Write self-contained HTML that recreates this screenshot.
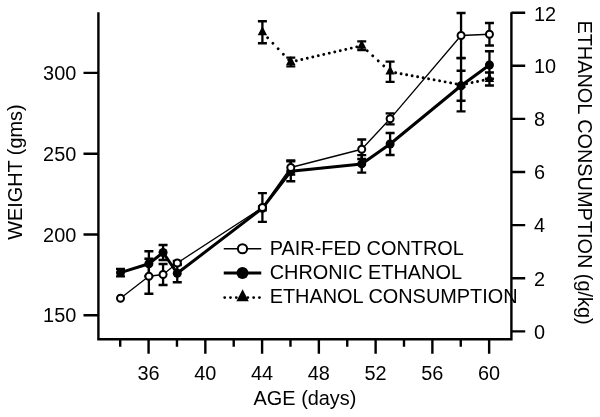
<!DOCTYPE html>
<html><head><meta charset="utf-8"><title>Weight and ethanol consumption</title>
<style>html,body{margin:0;padding:0;background:#fff}svg{display:block}text{font-family:"Liberation Sans",Arial,sans-serif;font-size:19.9px;fill:#000}</style>
</head><body>
<svg width="600" height="417" viewBox="0 0 600 417">
<rect width="600" height="417" fill="#fff"/>
<path d="M98.4 12.3V339.2H511.4V12.3" fill="none" stroke="#000" stroke-width="2.4" stroke-linejoin="miter"/>
<path d="M120.20 339V346.75M148.58 339V353.75M176.96 339V346.75M205.34 339V353.75M233.72 339V346.75M262.10 339V353.75M290.48 339V346.75M318.86 339V353.75M347.24 339V346.75M375.62 339V353.75M404.00 339V346.75M432.38 339V353.75M460.76 339V346.75M489.14 339V353.75M83.5 315.2H98.4M83.5 234.5H98.4M83.5 153.8H98.4M83.5 72.9H98.4M511.4 331.40H525.2M511.4 278.28H525.2M511.4 225.16H525.2M511.4 172.04H525.2M511.4 118.92H525.2M511.4 65.80H525.2M511.4 12.68H525.2" stroke="#000" stroke-width="2.4" fill="none"/>
<path d="M262.40 21.25V43.25M257.90 21.25H266.90M257.90 43.25H266.90M290.78 57.60V66.40M286.28 57.60H295.28M286.28 66.40H295.28M361.73 41.35V50.15M357.23 41.35H366.23M357.23 50.15H366.23M390.11 61.60V81.80M385.61 61.60H394.61M385.61 81.80H394.61M461.06 58.20V111.40M456.56 58.20H465.56M456.56 111.40H465.56M489.44 72.50V85.50M484.94 72.50H493.94M484.94 85.50H493.94" stroke="#000" stroke-width="2.3" fill="none"/>
<path d="M262.40 32.25L290.78 62.00" fill="none" stroke="#000" stroke-width="2.9" stroke-linecap="round" stroke-dasharray="0.01 7.591"/><path d="M290.78 62.00L361.73 45.75" fill="none" stroke="#000" stroke-width="2.9" stroke-linecap="round" stroke-dasharray="0.01 5.632"/><path d="M361.73 45.75L390.11 71.70" fill="none" stroke="#000" stroke-width="2.9" stroke-linecap="round" stroke-dasharray="0.01 7.443"/><path d="M390.11 71.70L461.06 84.80" fill="none" stroke="#000" stroke-width="2.9" stroke-linecap="round" stroke-dasharray="0.01 5.583"/><path d="M461.06 84.80L489.44 79.00" fill="none" stroke="#000" stroke-width="2.9" stroke-linecap="round" stroke-dasharray="0.01 5.604"/>
<path d="M262.40 26.35L267.10 35.15H257.70Z" fill="#000"/>
<path d="M290.78 56.10L295.48 64.90H286.08Z" fill="#000"/>
<path d="M361.73 39.85L366.43 48.65H357.03Z" fill="#000"/>
<path d="M390.11 65.80L394.81 74.60H385.41Z" fill="#000"/>
<path d="M461.06 78.90L465.76 87.70H456.36Z" fill="#000"/>
<path d="M489.44 73.10L494.14 81.90H484.74Z" fill="#000"/>
<path d="M120.50 268.80V276.40M116.00 268.80H125.00M116.00 276.40H125.00M148.88 251.25V276.25M144.38 251.25H153.38M144.38 276.25H153.38M163.07 245.00V260.00M158.57 245.00H167.57M158.57 260.00H167.57M177.26 264.25V282.25M172.76 264.25H181.76M172.76 282.25H181.76M262.40 206.30V210.30M257.90 206.30H266.90M257.90 210.30H266.90M290.78 161.25V181.25M286.28 161.25H295.28M286.28 181.25H295.28M361.73 155.15V172.65M357.23 155.15H366.23M357.23 172.65H366.23M390.11 133.00V155.00M385.61 133.00H394.61M385.61 155.00H394.61M461.06 70.75V100.75M456.56 70.75H465.56M456.56 100.75H465.56M489.44 51.25V78.75M484.94 51.25H493.94M484.94 78.75H493.94" stroke="#000" stroke-width="2.3" fill="none"/>
<polyline points="120.50,272.60 148.88,263.75 163.07,252.50 177.26,273.25 262.40,208.30 290.78,171.25 361.73,163.90 390.11,144.00 461.06,85.75 489.44,65.00" fill="none" stroke="#000" stroke-width="3" stroke-linejoin="round" />
<circle cx="120.50" cy="272.60" r="4.5" fill="#000"/>
<circle cx="148.88" cy="263.75" r="4.5" fill="#000"/>
<circle cx="163.07" cy="252.50" r="4.5" fill="#000"/>
<circle cx="177.26" cy="273.25" r="4.5" fill="#000"/>
<circle cx="262.40" cy="208.30" r="4.5" fill="#000"/>
<circle cx="290.78" cy="171.25" r="4.5" fill="#000"/>
<circle cx="361.73" cy="163.90" r="4.5" fill="#000"/>
<circle cx="390.11" cy="144.00" r="4.5" fill="#000"/>
<circle cx="461.06" cy="85.75" r="4.5" fill="#000"/>
<circle cx="489.44" cy="65.00" r="4.5" fill="#000"/>
<path d="M148.88 258.75V293.75M144.38 258.75H153.38M144.38 293.75H153.38M163.07 264.00V285.00M158.57 264.00H167.57M158.57 285.00H167.57M177.26 261.00V265.00M172.76 261.00H181.76M172.76 265.00H181.76M262.40 193.10V221.90M257.90 193.10H266.90M257.90 221.90H266.90M290.78 160.30V174.70M286.28 160.30H295.28M286.28 174.70H295.28M361.73 139.50V159.00M357.23 139.50H366.23M357.23 159.00H366.23M390.11 113.30V124.30M385.61 113.30H394.61M385.61 124.30H394.61M461.06 13.00V58.00M456.56 13.00H465.56M456.56 58.00H465.56M489.44 23.00V45.50M484.94 23.00H493.94M484.94 45.50H493.94" stroke="#000" stroke-width="2.3" fill="none"/>
<polyline points="120.50,298.25 148.88,276.25 163.07,274.50 177.26,263.00 262.40,207.50 290.78,167.50 361.73,149.25 390.11,118.80 461.06,35.50 489.44,34.25" fill="none" stroke="#000" stroke-width="1.3" stroke-linejoin="round" />
<circle cx="120.50" cy="298.25" r="3.5" fill="#fff" stroke="#000" stroke-width="2"/>
<circle cx="148.88" cy="276.25" r="3.5" fill="#fff" stroke="#000" stroke-width="2"/>
<circle cx="163.07" cy="274.50" r="3.5" fill="#fff" stroke="#000" stroke-width="2"/>
<circle cx="177.26" cy="263.00" r="3.5" fill="#fff" stroke="#000" stroke-width="2"/>
<circle cx="262.40" cy="207.50" r="3.5" fill="#fff" stroke="#000" stroke-width="2"/>
<circle cx="290.78" cy="167.50" r="3.5" fill="#fff" stroke="#000" stroke-width="2"/>
<circle cx="361.73" cy="149.25" r="3.5" fill="#fff" stroke="#000" stroke-width="2"/>
<circle cx="390.11" cy="118.80" r="3.5" fill="#fff" stroke="#000" stroke-width="2"/>
<circle cx="461.06" cy="35.50" r="3.5" fill="#fff" stroke="#000" stroke-width="2"/>
<circle cx="489.44" cy="34.25" r="3.5" fill="#fff" stroke="#000" stroke-width="2"/>
<path d="M223.75 248.75H261.25" stroke="#000" stroke-width="1.3"/>
<circle cx="242.5" cy="248.75" r="4.6" fill="#fff" stroke="#000" stroke-width="2"/>
<path d="M223.75 273H261.25" stroke="#000" stroke-width="3"/>
<circle cx="242.5" cy="273" r="6" fill="#000"/>
<path d="M224.7 297.6H261.25" stroke="#000" stroke-width="2.9" stroke-linecap="round" stroke-dasharray="0.01 5.78"/>
<path d="M242.6 289.2L248.8 301.3H236.4Z" fill="#000"/>
<g><text x="148.58" y="379.9" text-anchor="middle">36</text><text x="205.34" y="379.9" text-anchor="middle">40</text><text x="262.10" y="379.9" text-anchor="middle">44</text><text x="318.86" y="379.9" text-anchor="middle">48</text><text x="375.62" y="379.9" text-anchor="middle">52</text><text x="432.38" y="379.9" text-anchor="middle">56</text><text x="489.14" y="379.9" text-anchor="middle">60</text><text x="76.3" y="322.40" text-anchor="end">150</text><text x="76.3" y="241.70" text-anchor="end">200</text><text x="76.3" y="161.00" text-anchor="end">250</text><text x="76.3" y="80.10" text-anchor="end">300</text><text x="534" y="338.70">0</text><text x="534" y="285.58">2</text><text x="534" y="232.46">4</text><text x="534" y="179.34">6</text><text x="534" y="126.22">8</text><text x="534" y="73.10">10</text><text x="534" y="20.88">12</text><text x="305" y="405" text-anchor="middle">AGE (days)</text><text transform="translate(22.2 172.1) rotate(-90)" text-anchor="middle">WEIGHT (gms)</text><text transform="translate(578 20.4) rotate(90)">ETHANOL CONSUMPTION (g/kg)</text><text x="269.7" y="254.5">PAIR-FED CONTROL</text><text x="269.7" y="278.7">CHRONIC ETHANOL</text><text x="269.7" y="302.7">ETHANOL CONSUMPTION</text></g>
</svg>
</body></html>
